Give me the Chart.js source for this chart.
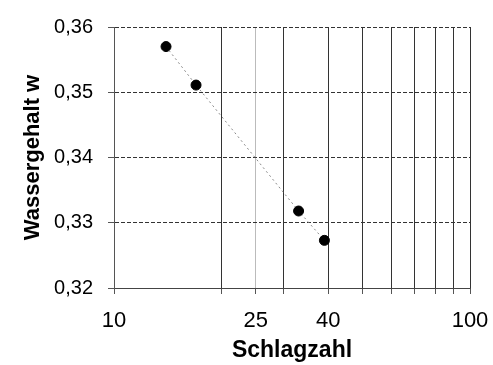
<!DOCTYPE html>
<html>
<head>
<meta charset="utf-8">
<script src="https://cdn.jsdelivr.net/npm/chart.js@4"></script>
<style>
html,body{margin:0;padding:0;background:#fff;}
#wrap{width:493px;height:365px;}
</style>
</head>
<body>
<div id="wrap"><canvas id="c" width="493" height="365"></canvas></div>
<script>
const schlagzahl = [14, 17, 33, 39];
const wassergehalt = [0.357, 0.3511, 0.3318, 0.3273];
const xGridValues = [10, 20, 25, 30, 40, 50, 60, 70, 80, 90, 100];
const xTickLabels = {10: '10', 25: '25', 40: '40', 100: '100'};
const yMin = 0.32, yMax = 0.36, yStep = 0.01;

const points = schlagzahl.map((x, i) => ({x: x, y: wassergehalt[i]}));
const FONT = '"Liberation Sans", Arial, sans-serif';

new Chart(document.getElementById('c'), {
  type: 'scatter',
  data: {
    datasets: [{
      data: points,
      showLine: true,
      borderColor: '#8a8a8a',
      borderWidth: 1,
      borderDash: [2, 3],
      pointRadius: 5,
      pointHoverRadius: 5,
      pointBackgroundColor: '#000',
      pointBorderColor: '#000',
      pointStyle: 'circle'
    }]
  },
  options: {
    responsive: false,
    animation: false,
    layout: {padding: {top: 22, right: 23, left: 0, bottom: 0}},
    plugins: {legend: {display: false}, tooltip: {enabled: false}},
    scales: {
      x: {
        type: 'logarithmic',
        min: 10, max: 100,
        afterBuildTicks: (s) => { s.ticks = xGridValues.map(v => ({value: v})); },
        afterFit: (s) => { s.height = 77; s.paddingLeft = 0; s.paddingRight = 0; },
        ticks: {
          autoSkip: false, maxRotation: 0, minRotation: 0,
          padding: 14, color: '#000',
          font: {family: FONT, size: 22},
          callback: (v) => xTickLabels[v] || ''
        },
        grid: {
          color: (ctx) => ctx.tick && ctx.tick.value === 25 ? '#bbbbbb' : '#333333',
          lineWidth: 1,
          tickLength: 6,
          tickColor: '#555'
        },
        border: {display: true, color: '#444'},
        title: {
          display: true, text: 'Schlagzahl', color: '#000',
          font: {family: FONT, size: 23, weight: 'bold'},
          padding: {top: 0, bottom: 1}
        }
      },
      y: {
        min: yMin, max: yMax,
        afterFit: (s) => { s.width = 114; },
        ticks: {
          stepSize: yStep, padding: 15, color: '#000',
          font: {family: FONT, size: 20},
          callback: (v) => Number(v).toFixed(2).replace('.', ',')
        },
        grid: {
          color: '#333333', lineWidth: 1, tickLength: 6, tickColor: '#555'
        },
        border: {display: true, color: '#555', dash: [4, 2]},
        title: {
          display: true, text: 'Wassergehalt w', color: '#000',
          font: {family: FONT, size: 22, weight: 'bold'},
          padding: {top: 20, bottom: 0}
        }
      }
    }
  }
});
</script>
</body>
</html>
